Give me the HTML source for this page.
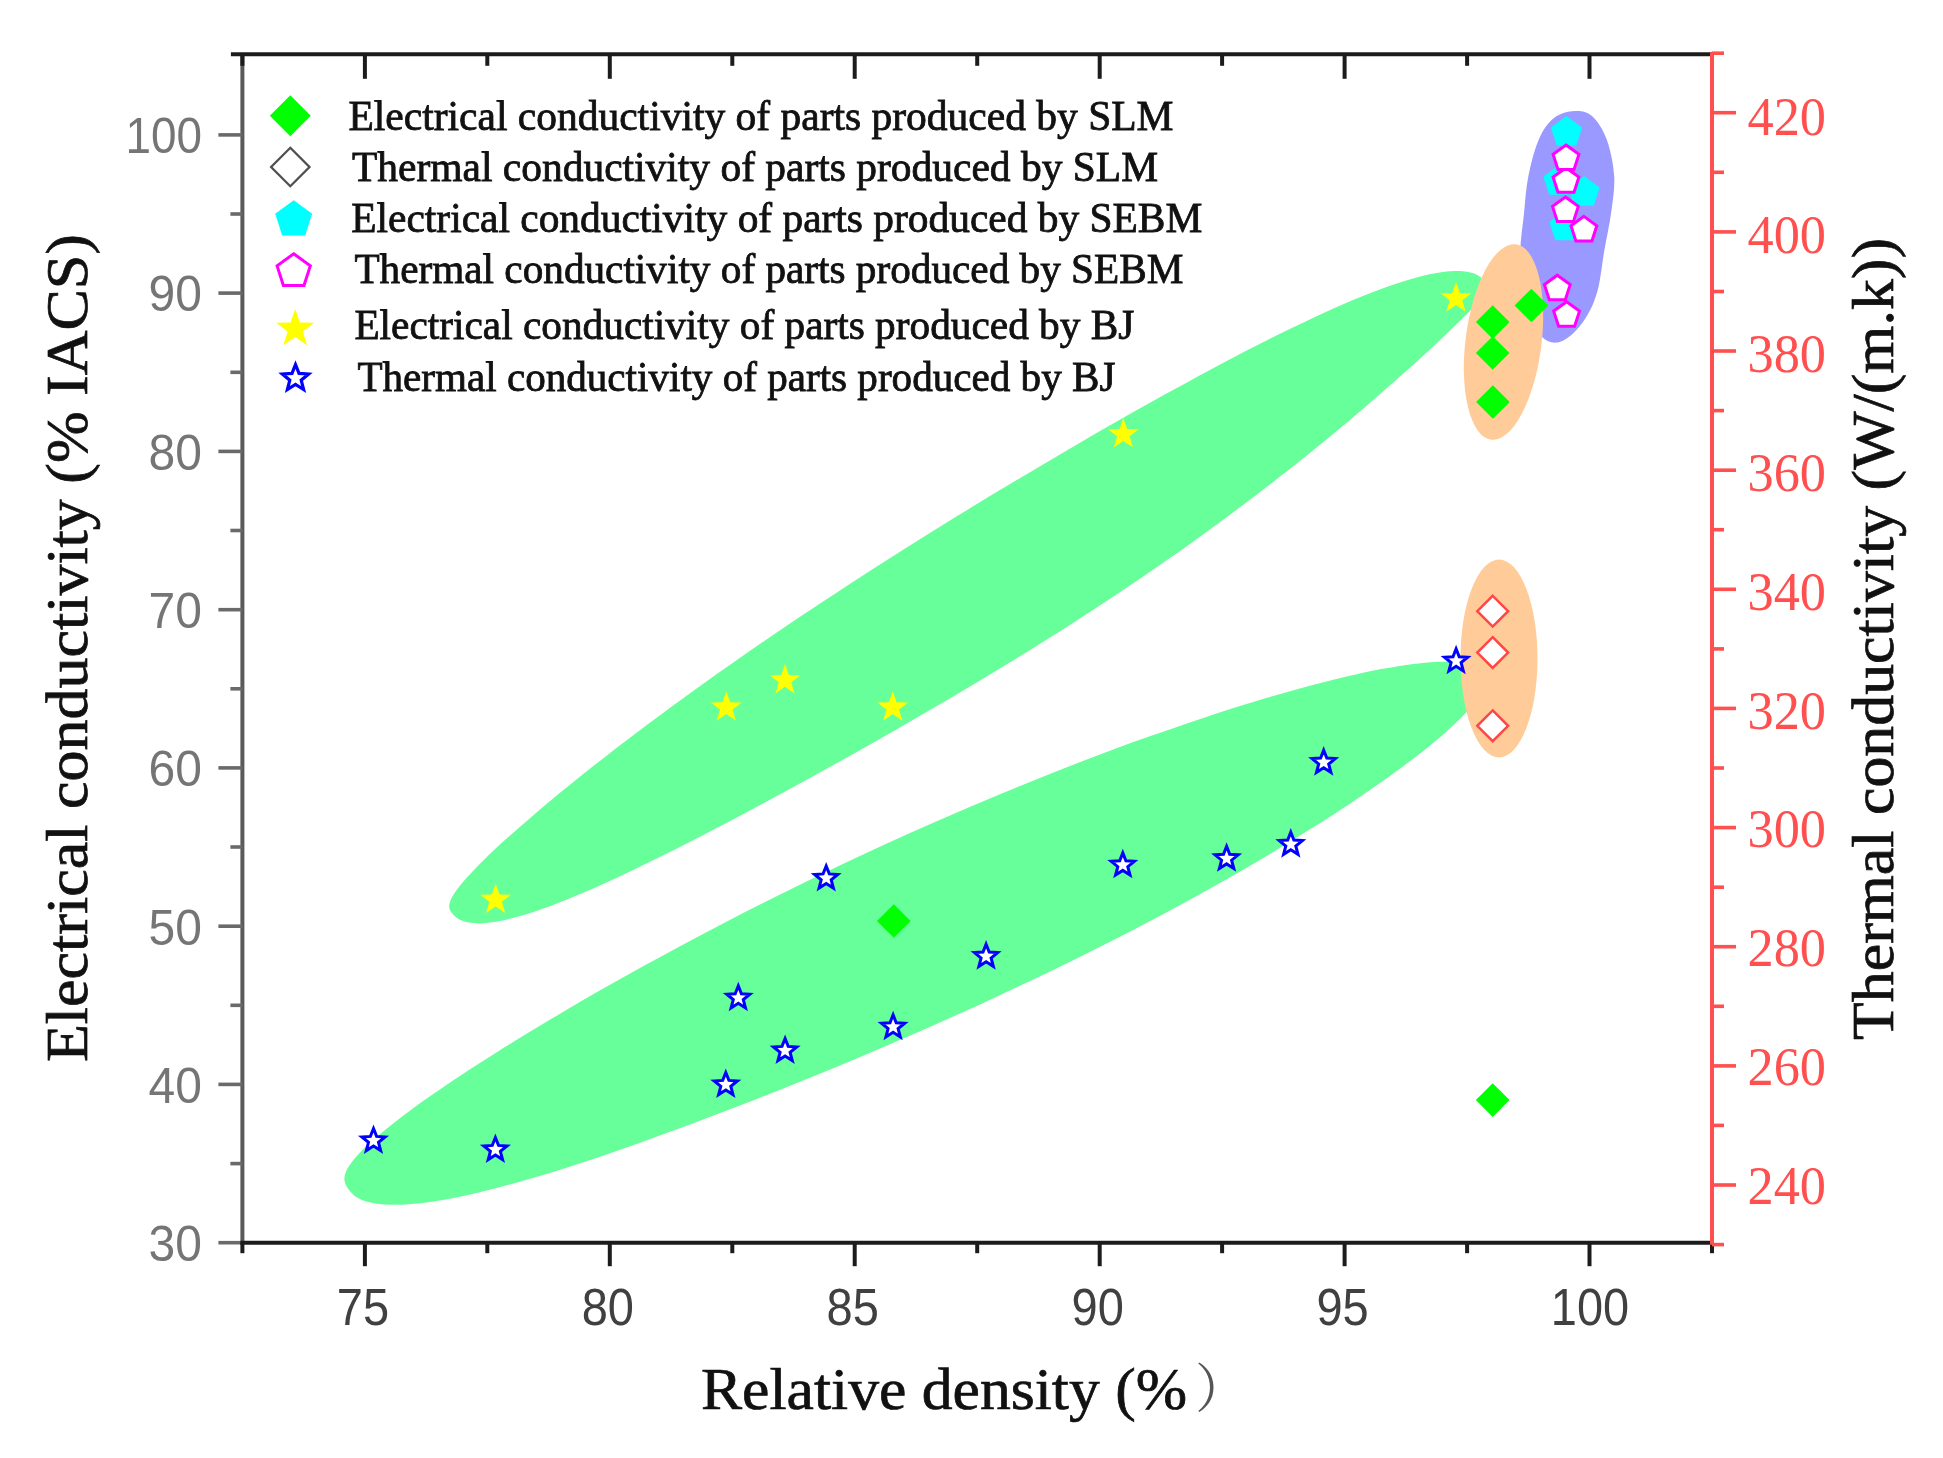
<!DOCTYPE html>
<html lang="en">
<head>
<meta charset="utf-8">
<title>Conductivity vs relative density</title>
<style>
html,body{margin:0;padding:0;background:#fff;}
body{width:1943px;height:1458px;overflow:hidden;}
svg{display:block;filter:blur(0.55px);}
text{white-space:pre;}
</style>
</head>
<body>
<svg width="1943" height="1458" viewBox="0 0 1943 1458">
<path d="M450.5,911C448.8,908.2 448.9,906.1 449.7,902.9C450.5,899.7 452.5,896.1 455.4,891.8C458.3,887.5 462.3,882.7 467.1,877.3C472,871.8 477.9,865.8 484.6,859.2C491.3,852.6 499,845.4 507.5,837.8C516,830.1 525.5,821.9 535.7,813.2C545.9,804.5 556.9,795.3 568.7,785.8C580.5,776.2 593.1,766.2 606.3,755.9C619.5,745.7 633.5,735 648.1,724.1C662.6,713.2 677.8,702 693.5,690.7C709.2,679.4 725.6,667.8 742.2,656.2C758.9,644.6 776.2,632.8 793.6,621.1C811.1,609.3 829,597.5 847.1,585.7C865.2,573.9 883.6,562.1 902,550.5C920.4,538.8 939.1,527.2 957.6,515.8C976.2,504.4 994.9,493 1013.4,482C1031.9,470.9 1050.3,460 1068.5,449.4C1086.7,438.7 1104.7,428.3 1122.4,418.3C1140,408.3 1157.4,398.6 1174.4,389.3C1191.3,380 1207.9,371 1223.9,362.5C1239.9,354.1 1255.5,346 1270.4,338.6C1285.3,331.1 1299.7,324.1 1313.4,317.7C1327.1,311.3 1340.2,305.5 1352.5,300.3C1364.9,295.2 1376.5,290.6 1387.3,286.8C1398.2,282.9 1408.3,279.7 1417.5,277.3C1426.7,274.8 1435.2,273.1 1442.7,272C1450.2,271 1456.9,270.7 1462.7,271.2C1468.5,271.7 1473.3,272.8 1477.4,274.9C1481.4,277 1485.5,281.5 1487,284C1488.5,286.5 1487.7,287.5 1486.6,290.1C1485.4,292.8 1483.1,295.8 1479.9,299.7C1476.8,303.5 1472.6,308 1467.6,313.2C1462.6,318.4 1456.6,324.2 1449.8,330.7C1443.1,337.2 1435.4,344.4 1426.9,352.2C1418.5,360 1409.2,368.4 1399.1,377.3C1389.1,386.2 1378.2,395.8 1366.6,405.7C1355.1,415.6 1342.7,426 1329.8,436.7C1316.8,447.4 1303,458.5 1288.7,469.8C1274.4,481 1259.4,492.7 1244,504.3C1228.5,516 1212.3,527.8 1195.8,539.7C1179.3,551.5 1162.1,563.5 1144.7,575.4C1127.3,587.2 1109.5,599.2 1091.4,610.9C1073.3,622.7 1054.9,634.4 1036.4,646C1017.9,657.5 999.1,669 980.4,680.2C961.8,691.4 942.9,702.5 924.3,713.3C905.7,724.2 887,734.8 868.7,745.2C850.4,755.6 832.2,765.7 814.4,775.5C796.6,785.3 779.1,794.9 762.1,804C745.1,813.1 728.4,822 712.3,830.3C696.3,838.7 680.6,846.7 665.7,854.1C650.8,861.6 636.4,868.6 622.7,875C609,881.4 596,887.3 583.7,892.6C571.4,897.8 559.8,902.5 549.1,906.4C538.3,910.4 528.3,913.7 519.1,916.3C510,918.9 501.6,920.8 494.2,921.9C486.7,923 480.1,923.5 474.4,923.1C468.7,922.7 463.9,921.7 459.9,919.7C456,917.7 452.2,913.8 450.5,911Z" fill="#66ff99"/>
<path d="M345.7,1184.5C344.1,1180.9 344.1,1178 345.1,1174.3C346.1,1170.6 348.4,1166.7 351.7,1162.3C355,1157.8 359.4,1153 364.9,1147.6C370.4,1142.3 376.9,1136.5 384.5,1130.4C392.1,1124.2 400.7,1117.5 410.2,1110.5C419.7,1103.5 430.3,1096 441.7,1088.3C453.1,1080.5 465.4,1072.3 478.6,1063.8C491.7,1055.4 505.7,1046.6 520.4,1037.6C535.1,1028.5 550.6,1019.2 566.7,1009.7C582.8,1000.3 599.7,990.6 617.1,980.8C634.4,971.1 652.4,961.1 670.8,951.2C689.2,941.2 708.2,931.2 727.4,921.3C746.6,911.3 766.3,901.3 786.2,891.5C806,881.7 826.3,871.9 846.5,862.3C866.8,852.7 887.3,843.3 907.7,834.1C928.2,824.9 948.7,815.9 969.1,807.2C989.4,798.5 1009.8,790 1029.9,781.9C1049.9,773.8 1069.9,766 1089.4,758.5C1108.9,751.1 1128.2,744 1146.9,737.3C1165.7,730.6 1184,724.3 1201.8,718.4C1219.5,712.6 1236.7,707.1 1253.2,702.1C1269.7,697 1285.6,692.4 1300.7,688.3C1315.7,684.2 1330.1,680.5 1343.5,677.3C1357,674.1 1369.6,671.4 1381.3,669.1C1393,666.9 1403.8,665.1 1413.6,663.9C1423.3,662.7 1432.2,661.9 1439.9,661.7C1447.7,661.6 1454.4,661.9 1460.1,662.8C1465.8,663.7 1470.4,665 1474.1,667.2C1477.7,669.4 1480.5,672.7 1482,676C1483.5,679.3 1483.8,683 1482.9,687C1482,690.9 1479.9,695 1476.7,699.7C1473.5,704.4 1469.2,709.5 1463.8,715.1C1458.5,720.7 1452,726.8 1444.6,733.2C1437.2,739.7 1428.7,746.7 1419.3,754C1409.9,761.3 1399.5,769.1 1388.2,777.2C1377,785.2 1364.7,793.7 1351.7,802.4C1338.7,811.1 1324.8,820.1 1310.1,829.3C1295.5,838.5 1280.1,848 1264,857.5C1247.9,867 1231,876.8 1213.7,886.5C1196.3,896.2 1178.3,906.1 1159.8,915.9C1141.4,925.7 1122.3,935.6 1103,945.3C1083.7,955.1 1063.9,964.8 1043.9,974.4C1024,984 1003.6,993.5 983.3,1002.9C962.9,1012.2 942.3,1021.5 921.8,1030.5C901.3,1039.5 880.6,1048.3 860.2,1056.9C839.8,1065.5 819.4,1073.9 799.3,1082C779.3,1090.1 759.4,1098 739.9,1105.6C720.4,1113.1 701.2,1120.4 682.6,1127.3C664,1134.2 645.7,1140.8 628.1,1146.9C610.5,1153.1 593.4,1158.9 577.1,1164.2C560.7,1169.5 544.9,1174.4 530,1178.7C515,1183.1 500.7,1187 487.4,1190.3C474,1193.7 461.3,1196.5 449.7,1198.7C438,1200.9 427.1,1202.5 417.3,1203.6C407.4,1204.6 398.4,1205 390.5,1204.8C382.5,1204.6 375.6,1203.8 369.6,1202.3C363.7,1200.8 358.8,1198.8 354.8,1195.9C350.8,1192.9 347.3,1188.1 345.7,1184.5Z" fill="#66ff99"/>
<path d="M1574.6,111C1580.9,110.7 1586.7,111.3 1592,116C1597.3,120.7 1603,129.3 1606.7,139.4C1610.4,149.5 1613.5,164.2 1614.2,176.5C1614.9,188.8 1612.7,201.2 1611,213.5C1609.3,225.8 1606.5,238 1604.3,250.6C1602.1,263.2 1600.7,278.4 1598,289C1595.3,299.6 1592.2,306.6 1588,314C1583.8,321.4 1578.2,328.8 1573,333.5C1567.8,338.2 1562.2,341.9 1557,342.5C1551.8,343.1 1546.5,341.6 1542,337C1537.5,332.4 1533.2,324.2 1530,315C1526.8,305.8 1524.6,292.7 1523,282C1521.4,271.3 1520.1,262 1520.3,250.6C1520.5,239.2 1522.7,225.8 1524,213.5C1525.3,201.2 1525.8,188.8 1528.3,176.5C1530.8,164.2 1534.5,149.2 1538.8,139.4C1543.1,129.7 1548,122.7 1554,118C1560,113.3 1568.3,111.3 1574.6,111Z" fill="#9999ff"/>
<ellipse cx="1503.5" cy="342" rx="38" ry="98.5" transform="rotate(7.2 1503.5 342)" fill="#ffcc99"/>
<ellipse cx="1499" cy="658.5" rx="38.5" ry="99" fill="#ffcc99"/>
<path d="M495.6,883.5L499.5,894.5L511.1,894.8L501.9,901.8L505.2,913L495.6,906.4L486,913L489.3,901.8L480.1,894.8L491.7,894.5Z" fill="#ffff00"/>
<path d="M726.3,691.2L730.2,702.2L741.8,702.5L732.6,709.5L735.9,720.7L726.3,714.1L716.7,720.7L720,709.5L710.8,702.5L722.4,702.2Z" fill="#ffff00"/>
<path d="M785,663.9L788.9,674.9L800.5,675.2L791.3,682.2L794.6,693.4L785,686.8L775.4,693.4L778.7,682.2L769.5,675.2L781.1,674.9Z" fill="#ffff00"/>
<path d="M892.7,691.2L896.6,702.2L908.2,702.5L899,709.5L902.3,720.7L892.7,714.1L883.1,720.7L886.4,709.5L877.2,702.5L888.8,702.2Z" fill="#ffff00"/>
<path d="M1123.3,418L1127.2,429L1138.8,429.3L1129.6,436.3L1132.9,447.5L1123.3,440.9L1113.7,447.5L1117,436.3L1107.8,429.3L1119.4,429Z" fill="#ffff00"/>
<path d="M1456,282L1459.9,293L1471.5,293.3L1462.3,300.3L1465.6,311.5L1456,304.9L1446.4,311.5L1449.7,300.3L1440.5,293.3L1452.1,293Z" fill="#ffff00"/>
<path d="M373.5,1128.5L376.6,1136.4L385.1,1136.9L378.5,1142.3L380.7,1150.6L373.5,1146L366.3,1150.6L368.5,1142.3L361.9,1136.9L370.4,1136.4Z" fill="#fff" stroke="#0000ff" stroke-width="3"/>
<path d="M495.4,1137.5L498.5,1145.4L507,1145.9L500.4,1151.3L502.6,1159.6L495.4,1155L488.2,1159.6L490.4,1151.3L483.8,1145.9L492.3,1145.4Z" fill="#fff" stroke="#0000ff" stroke-width="3"/>
<path d="M725.8,1072.5L728.9,1080.4L737.4,1080.9L730.8,1086.3L733,1094.6L725.8,1090L718.6,1094.6L720.8,1086.3L714.2,1080.9L722.7,1080.4Z" fill="#fff" stroke="#0000ff" stroke-width="3"/>
<path d="M738.3,985.8L741.4,993.7L749.9,994.2L743.3,999.6L745.5,1007.9L738.3,1003.3L731.1,1007.9L733.3,999.6L726.7,994.2L735.2,993.7Z" fill="#fff" stroke="#0000ff" stroke-width="3"/>
<path d="M785.1,1038.5L788.2,1046.4L796.7,1046.9L790.1,1052.3L792.3,1060.6L785.1,1056L777.9,1060.6L780.1,1052.3L773.5,1046.9L782,1046.4Z" fill="#fff" stroke="#0000ff" stroke-width="3"/>
<path d="M893.1,1014.8L896.2,1022.7L904.7,1023.2L898.1,1028.6L900.3,1036.9L893.1,1032.3L885.9,1036.9L888.1,1028.6L881.5,1023.2L890,1022.7Z" fill="#fff" stroke="#0000ff" stroke-width="3"/>
<path d="M826.2,866L829.3,873.9L837.8,874.4L831.2,879.8L833.4,888.1L826.2,883.5L819,888.1L821.2,879.8L814.6,874.4L823.1,873.9Z" fill="#fff" stroke="#0000ff" stroke-width="3"/>
<path d="M986.1,944.2L989.2,952.1L997.7,952.6L991.1,958L993.3,966.3L986.1,961.7L978.9,966.3L981.1,958L974.5,952.6L983,952.1Z" fill="#fff" stroke="#0000ff" stroke-width="3"/>
<path d="M1122.8,852.9L1125.9,860.8L1134.4,861.3L1127.8,866.7L1130,875L1122.8,870.4L1115.6,875L1117.8,866.7L1111.2,861.3L1119.7,860.8Z" fill="#fff" stroke="#0000ff" stroke-width="3"/>
<path d="M1226.6,846.4L1229.7,854.3L1238.2,854.8L1231.6,860.2L1233.8,868.5L1226.6,863.9L1219.4,868.5L1221.6,860.2L1215,854.8L1223.5,854.3Z" fill="#fff" stroke="#0000ff" stroke-width="3"/>
<path d="M1290.8,832.2L1293.9,840.1L1302.4,840.6L1295.8,846L1298,854.3L1290.8,849.7L1283.6,854.3L1285.8,846L1279.2,840.6L1287.7,840.1Z" fill="#fff" stroke="#0000ff" stroke-width="3"/>
<path d="M1323.7,750.2L1326.8,758.1L1335.3,758.6L1328.7,764L1330.9,772.3L1323.7,767.7L1316.5,772.3L1318.7,764L1312.1,758.6L1320.6,758.1Z" fill="#fff" stroke="#0000ff" stroke-width="3"/>
<path d="M1456.1,648.8L1459.2,656.7L1467.7,657.2L1461.1,662.6L1463.3,670.9L1456.1,666.3L1448.9,670.9L1451.1,662.6L1444.5,657.2L1453,656.7Z" fill="#fff" stroke="#0000ff" stroke-width="3"/>
<path d="M893.8,904.2L910.6,921L893.8,937.8L877,921Z" fill="#00ff00"/>
<path d="M1492.7,305.3L1509.5,322.1L1492.7,338.9L1475.9,322.1Z" fill="#00ff00"/>
<path d="M1492.7,336.2L1509.5,353L1492.7,369.8L1475.9,353Z" fill="#00ff00"/>
<path d="M1492.9,385.2L1509.7,402L1492.9,418.8L1476.1,402Z" fill="#00ff00"/>
<path d="M1531.4,288.7L1548.2,305.5L1531.4,322.3L1514.6,305.5Z" fill="#00ff00"/>
<path d="M1492.7,1083.3L1509.5,1100.1L1492.7,1116.9L1475.9,1100.1Z" fill="#00ff00"/>
<path d="M1492.7,595.8L1508.1,611.2L1492.7,626.6L1477.3,611.2Z" fill="#fff" stroke="#ff4545" stroke-width="2.5"/>
<path d="M1492.7,637.2L1508.1,652.6L1492.7,668L1477.3,652.6Z" fill="#fff" stroke="#ff4545" stroke-width="2.5"/>
<path d="M1492.7,710.4L1508.1,725.8L1492.7,741.2L1477.3,725.8Z" fill="#fff" stroke="#ff4545" stroke-width="2.5"/>
<path d="M1566.5,116L1582.2,127.4L1576.2,145.8L1556.8,145.8L1550.8,127.4Z" fill="#00ffff"/>
<path d="M1559,165L1574.7,176.4L1568.7,194.8L1549.3,194.8L1543.3,176.4Z" fill="#00ffff"/>
<path d="M1584,176L1599.7,187.4L1593.7,205.8L1574.3,205.8L1568.3,187.4Z" fill="#00ffff"/>
<path d="M1565,210.5L1580.7,221.9L1574.7,240.3L1555.3,240.3L1549.3,221.9Z" fill="#00ffff"/>
<path d="M1566,167.7L1578.9,177.1L1574,192.3L1558,192.3L1553.1,177.1Z" fill="#fff" stroke="#ff00ff" stroke-width="3"/>
<path d="M1566,145L1578.9,154.4L1574,169.6L1558,169.6L1553.1,154.4Z" fill="#fff" stroke="#ff00ff" stroke-width="3"/>
<path d="M1565.4,197L1578.3,206.4L1573.4,221.6L1557.4,221.6L1552.5,206.4Z" fill="#fff" stroke="#ff00ff" stroke-width="3"/>
<path d="M1583.9,216.4L1596.8,225.8L1591.9,241L1575.9,241L1571,225.8Z" fill="#fff" stroke="#ff00ff" stroke-width="3"/>
<path d="M1566.6,301.7L1579.5,311.1L1574.6,326.3L1558.6,326.3L1553.7,311.1Z" fill="#fff" stroke="#ff00ff" stroke-width="3"/>
<path d="M1557.3,275.2L1570.2,284.6L1565.3,299.8L1549.3,299.8L1544.4,284.6Z" fill="#fff" stroke="#ff00ff" stroke-width="3"/>
<line x1="242.4" y1="54.3" x2="242.4" y2="1242.7" stroke="#5a5a5a" stroke-width="4"/>
<line x1="218.4" y1="1242.7" x2="242.4" y2="1242.7" stroke="#6a6a6a" stroke-width="3.6"/>
<line x1="230.4" y1="1163.6" x2="242.4" y2="1163.6" stroke="#6a6a6a" stroke-width="3.6"/>
<line x1="218.4" y1="1084.4" x2="242.4" y2="1084.4" stroke="#6a6a6a" stroke-width="3.6"/>
<line x1="230.4" y1="1005.3" x2="242.4" y2="1005.3" stroke="#6a6a6a" stroke-width="3.6"/>
<line x1="218.4" y1="926.2" x2="242.4" y2="926.2" stroke="#6a6a6a" stroke-width="3.6"/>
<line x1="230.4" y1="847" x2="242.4" y2="847" stroke="#6a6a6a" stroke-width="3.6"/>
<line x1="218.4" y1="767.9" x2="242.4" y2="767.9" stroke="#6a6a6a" stroke-width="3.6"/>
<line x1="230.4" y1="688.8" x2="242.4" y2="688.8" stroke="#6a6a6a" stroke-width="3.6"/>
<line x1="218.4" y1="609.7" x2="242.4" y2="609.7" stroke="#6a6a6a" stroke-width="3.6"/>
<line x1="230.4" y1="530.5" x2="242.4" y2="530.5" stroke="#6a6a6a" stroke-width="3.6"/>
<line x1="218.4" y1="451.4" x2="242.4" y2="451.4" stroke="#6a6a6a" stroke-width="3.6"/>
<line x1="230.4" y1="372.3" x2="242.4" y2="372.3" stroke="#6a6a6a" stroke-width="3.6"/>
<line x1="218.4" y1="293.1" x2="242.4" y2="293.1" stroke="#6a6a6a" stroke-width="3.6"/>
<line x1="230.4" y1="214" x2="242.4" y2="214" stroke="#6a6a6a" stroke-width="3.6"/>
<line x1="218.4" y1="134.9" x2="242.4" y2="134.9" stroke="#6a6a6a" stroke-width="3.6"/>
<line x1="230.9" y1="54.3" x2="1712" y2="54.3" stroke="#1c1c1c" stroke-width="4"/>
<line x1="240.4" y1="1242.7" x2="1712" y2="1242.7" stroke="#1c1c1c" stroke-width="4"/>
<line x1="242.4" y1="54.3" x2="242.4" y2="65.8" stroke="#1c1c1c" stroke-width="4"/>
<line x1="242.4" y1="1242.7" x2="242.4" y2="1253.2" stroke="#1c1c1c" stroke-width="4"/>
<line x1="364.9" y1="54.3" x2="364.9" y2="78.8" stroke="#1c1c1c" stroke-width="4"/>
<line x1="364.9" y1="1242.7" x2="364.9" y2="1266.2" stroke="#1c1c1c" stroke-width="4"/>
<line x1="487.3" y1="54.3" x2="487.3" y2="65.8" stroke="#1c1c1c" stroke-width="4"/>
<line x1="487.3" y1="1242.7" x2="487.3" y2="1253.2" stroke="#1c1c1c" stroke-width="4"/>
<line x1="609.8" y1="54.3" x2="609.8" y2="78.8" stroke="#1c1c1c" stroke-width="4"/>
<line x1="609.8" y1="1242.7" x2="609.8" y2="1266.2" stroke="#1c1c1c" stroke-width="4"/>
<line x1="732.3" y1="54.3" x2="732.3" y2="65.8" stroke="#1c1c1c" stroke-width="4"/>
<line x1="732.3" y1="1242.7" x2="732.3" y2="1253.2" stroke="#1c1c1c" stroke-width="4"/>
<line x1="854.7" y1="54.3" x2="854.7" y2="78.8" stroke="#1c1c1c" stroke-width="4"/>
<line x1="854.7" y1="1242.7" x2="854.7" y2="1266.2" stroke="#1c1c1c" stroke-width="4"/>
<line x1="977.2" y1="54.3" x2="977.2" y2="65.8" stroke="#1c1c1c" stroke-width="4"/>
<line x1="977.2" y1="1242.7" x2="977.2" y2="1253.2" stroke="#1c1c1c" stroke-width="4"/>
<line x1="1099.7" y1="54.3" x2="1099.7" y2="78.8" stroke="#1c1c1c" stroke-width="4"/>
<line x1="1099.7" y1="1242.7" x2="1099.7" y2="1266.2" stroke="#1c1c1c" stroke-width="4"/>
<line x1="1222.1" y1="54.3" x2="1222.1" y2="65.8" stroke="#1c1c1c" stroke-width="4"/>
<line x1="1222.1" y1="1242.7" x2="1222.1" y2="1253.2" stroke="#1c1c1c" stroke-width="4"/>
<line x1="1344.6" y1="54.3" x2="1344.6" y2="78.8" stroke="#1c1c1c" stroke-width="4"/>
<line x1="1344.6" y1="1242.7" x2="1344.6" y2="1266.2" stroke="#1c1c1c" stroke-width="4"/>
<line x1="1467.1" y1="54.3" x2="1467.1" y2="65.8" stroke="#1c1c1c" stroke-width="4"/>
<line x1="1467.1" y1="1242.7" x2="1467.1" y2="1253.2" stroke="#1c1c1c" stroke-width="4"/>
<line x1="1589.5" y1="54.3" x2="1589.5" y2="78.8" stroke="#1c1c1c" stroke-width="4"/>
<line x1="1589.5" y1="1242.7" x2="1589.5" y2="1266.2" stroke="#1c1c1c" stroke-width="4"/>
<line x1="1712" y1="54.3" x2="1712" y2="65.8" stroke="#1c1c1c" stroke-width="4"/>
<line x1="1712" y1="1242.7" x2="1712" y2="1253.2" stroke="#1c1c1c" stroke-width="4"/>
<line x1="1712" y1="52.3" x2="1712" y2="1244.7" stroke="#ff4f4f" stroke-width="4"/>
<line x1="1712" y1="1244.6" x2="1724" y2="1244.6" stroke="#ff4f4f" stroke-width="3.6"/>
<line x1="1712" y1="1185" x2="1736" y2="1185" stroke="#ff4f4f" stroke-width="3.6"/>
<line x1="1712" y1="1125.4" x2="1724" y2="1125.4" stroke="#ff4f4f" stroke-width="3.6"/>
<line x1="1712" y1="1065.9" x2="1736" y2="1065.9" stroke="#ff4f4f" stroke-width="3.6"/>
<line x1="1712" y1="1006.3" x2="1724" y2="1006.3" stroke="#ff4f4f" stroke-width="3.6"/>
<line x1="1712" y1="946.7" x2="1736" y2="946.7" stroke="#ff4f4f" stroke-width="3.6"/>
<line x1="1712" y1="887.2" x2="1724" y2="887.2" stroke="#ff4f4f" stroke-width="3.6"/>
<line x1="1712" y1="827.6" x2="1736" y2="827.6" stroke="#ff4f4f" stroke-width="3.6"/>
<line x1="1712" y1="768" x2="1724" y2="768" stroke="#ff4f4f" stroke-width="3.6"/>
<line x1="1712" y1="708.4" x2="1736" y2="708.4" stroke="#ff4f4f" stroke-width="3.6"/>
<line x1="1712" y1="648.9" x2="1724" y2="648.9" stroke="#ff4f4f" stroke-width="3.6"/>
<line x1="1712" y1="589.3" x2="1736" y2="589.3" stroke="#ff4f4f" stroke-width="3.6"/>
<line x1="1712" y1="529.7" x2="1724" y2="529.7" stroke="#ff4f4f" stroke-width="3.6"/>
<line x1="1712" y1="470.2" x2="1736" y2="470.2" stroke="#ff4f4f" stroke-width="3.6"/>
<line x1="1712" y1="410.6" x2="1724" y2="410.6" stroke="#ff4f4f" stroke-width="3.6"/>
<line x1="1712" y1="351" x2="1736" y2="351" stroke="#ff4f4f" stroke-width="3.6"/>
<line x1="1712" y1="291.5" x2="1724" y2="291.5" stroke="#ff4f4f" stroke-width="3.6"/>
<line x1="1712" y1="231.9" x2="1736" y2="231.9" stroke="#ff4f4f" stroke-width="3.6"/>
<line x1="1712" y1="172.3" x2="1724" y2="172.3" stroke="#ff4f4f" stroke-width="3.6"/>
<line x1="1712" y1="112.7" x2="1736" y2="112.7" stroke="#ff4f4f" stroke-width="3.6"/>
<line x1="1712" y1="53.2" x2="1724" y2="53.2" stroke="#ff4f4f" stroke-width="3.6"/>
<text x="362.9" y="1325" text-anchor="middle" font-family="'Liberation Sans',sans-serif" font-size="51" textLength="52.3" lengthAdjust="spacingAndGlyphs" fill="#404040">75</text>
<text x="607.8" y="1325" text-anchor="middle" font-family="'Liberation Sans',sans-serif" font-size="51" textLength="52.3" lengthAdjust="spacingAndGlyphs" fill="#404040">80</text>
<text x="852.7" y="1325" text-anchor="middle" font-family="'Liberation Sans',sans-serif" font-size="51" textLength="52.3" lengthAdjust="spacingAndGlyphs" fill="#404040">85</text>
<text x="1097.7" y="1325" text-anchor="middle" font-family="'Liberation Sans',sans-serif" font-size="51" textLength="52.3" lengthAdjust="spacingAndGlyphs" fill="#404040">90</text>
<text x="1342.6" y="1325" text-anchor="middle" font-family="'Liberation Sans',sans-serif" font-size="51" textLength="52.3" lengthAdjust="spacingAndGlyphs" fill="#404040">95</text>
<text x="1590" y="1325" text-anchor="middle" font-family="'Liberation Sans',sans-serif" font-size="51" textLength="78.3" lengthAdjust="spacingAndGlyphs" fill="#404040">100</text>
<text x="202" y="1261" text-anchor="end" font-family="'Liberation Sans',sans-serif" font-size="50" textLength="53.4" lengthAdjust="spacingAndGlyphs" fill="#757575">30</text>
<text x="202" y="1102.7" text-anchor="end" font-family="'Liberation Sans',sans-serif" font-size="50" textLength="53.4" lengthAdjust="spacingAndGlyphs" fill="#757575">40</text>
<text x="202" y="944.5" text-anchor="end" font-family="'Liberation Sans',sans-serif" font-size="50" textLength="53.4" lengthAdjust="spacingAndGlyphs" fill="#757575">50</text>
<text x="202" y="786.2" text-anchor="end" font-family="'Liberation Sans',sans-serif" font-size="50" textLength="53.4" lengthAdjust="spacingAndGlyphs" fill="#757575">60</text>
<text x="202" y="628" text-anchor="end" font-family="'Liberation Sans',sans-serif" font-size="50" textLength="53.4" lengthAdjust="spacingAndGlyphs" fill="#757575">70</text>
<text x="202" y="469.7" text-anchor="end" font-family="'Liberation Sans',sans-serif" font-size="50" textLength="53.4" lengthAdjust="spacingAndGlyphs" fill="#757575">80</text>
<text x="202" y="311.4" text-anchor="end" font-family="'Liberation Sans',sans-serif" font-size="50" textLength="53.4" lengthAdjust="spacingAndGlyphs" fill="#757575">90</text>
<text x="202" y="153.2" text-anchor="end" font-family="'Liberation Sans',sans-serif" font-size="50" textLength="76.5" lengthAdjust="spacingAndGlyphs" fill="#757575">100</text>
<text x="1747.5" y="1203.6" font-family="'Liberation Serif',serif" font-size="54" textLength="78.5" lengthAdjust="spacingAndGlyphs" fill="#ff4f4f">240</text>
<text x="1747.5" y="1084.8" font-family="'Liberation Serif',serif" font-size="54" textLength="78.5" lengthAdjust="spacingAndGlyphs" fill="#ff4f4f">260</text>
<text x="1747.5" y="966" font-family="'Liberation Serif',serif" font-size="54" textLength="78.5" lengthAdjust="spacingAndGlyphs" fill="#ff4f4f">280</text>
<text x="1747.5" y="847.3" font-family="'Liberation Serif',serif" font-size="54" textLength="78.5" lengthAdjust="spacingAndGlyphs" fill="#ff4f4f">300</text>
<text x="1747.5" y="728.5" font-family="'Liberation Serif',serif" font-size="54" textLength="78.5" lengthAdjust="spacingAndGlyphs" fill="#ff4f4f">320</text>
<text x="1747.5" y="609.7" font-family="'Liberation Serif',serif" font-size="54" textLength="78.5" lengthAdjust="spacingAndGlyphs" fill="#ff4f4f">340</text>
<text x="1747.5" y="490.9" font-family="'Liberation Serif',serif" font-size="54" textLength="78.5" lengthAdjust="spacingAndGlyphs" fill="#ff4f4f">360</text>
<text x="1747.5" y="372.1" font-family="'Liberation Serif',serif" font-size="54" textLength="78.5" lengthAdjust="spacingAndGlyphs" fill="#ff4f4f">380</text>
<text x="1747.5" y="253.4" font-family="'Liberation Serif',serif" font-size="54" textLength="78.5" lengthAdjust="spacingAndGlyphs" fill="#ff4f4f">400</text>
<text x="1747.5" y="134.6" font-family="'Liberation Serif',serif" font-size="54" textLength="78.5" lengthAdjust="spacingAndGlyphs" fill="#ff4f4f">420</text>
<text x="701" y="1409" font-family="'Liberation Serif','Noto Serif CJK SC',serif" font-size="59.5" fill="#111"><tspan stroke="#111" stroke-width="0.7" textLength="486" lengthAdjust="spacingAndGlyphs">Relative density (%</tspan><tspan dx="8" dy="-1" font-size="53" fill="#555">）</tspan></text>
<text transform="translate(87.3 1062) rotate(-90)" font-family="'Liberation Serif','Noto Serif CJK SC',serif" font-size="59.5" fill="#111" stroke="#111" stroke-width="0.7" textLength="828" lengthAdjust="spacingAndGlyphs">Electrical conductivity (% IACS)</text>
<text transform="translate(1893.4 1040) rotate(-90)" font-family="'Liberation Serif','Noto Serif CJK SC',serif" font-size="59.5" fill="#111" stroke="#111" stroke-width="0.7" textLength="802" lengthAdjust="spacingAndGlyphs">Thermal conductivity (W/(m.k))</text>
<text x="348.5" y="130.3" font-family="'Liberation Serif','Noto Serif CJK SC',serif" font-size="41.2" fill="#111" stroke="#111" stroke-width="0.8" textLength="825" lengthAdjust="spacingAndGlyphs">Electrical conductivity of parts produced by SLM</text>
<text x="352" y="181" font-family="'Liberation Serif','Noto Serif CJK SC',serif" font-size="41.2" fill="#111" stroke="#111" stroke-width="0.8" textLength="806" lengthAdjust="spacingAndGlyphs">Thermal conductivity of parts produced by SLM</text>
<text x="351.3" y="232.1" font-family="'Liberation Serif','Noto Serif CJK SC',serif" font-size="41.2" fill="#111" stroke="#111" stroke-width="0.8" textLength="851" lengthAdjust="spacingAndGlyphs">Electrical conductivity of parts produced by SEBM</text>
<text x="354.4" y="283.4" font-family="'Liberation Serif','Noto Serif CJK SC',serif" font-size="41.2" fill="#111" stroke="#111" stroke-width="0.8" textLength="829" lengthAdjust="spacingAndGlyphs">Thermal conductivity of parts produced by SEBM</text>
<text x="354.4" y="338.9" font-family="'Liberation Serif','Noto Serif CJK SC',serif" font-size="41.2" fill="#111" stroke="#111" stroke-width="0.8" textLength="780" lengthAdjust="spacingAndGlyphs">Electrical conductivity of parts produced by BJ</text>
<text x="357.4" y="391.4" font-family="'Liberation Serif','Noto Serif CJK SC',serif" font-size="41.2" fill="#111" stroke="#111" stroke-width="0.8" textLength="758" lengthAdjust="spacingAndGlyphs">Thermal conductivity of parts produced by BJ</text>
<path d="M290.3,95.2L310.8,115.7L290.3,136.2L269.8,115.7Z" fill="#00ff00"/>
<path d="M290.3,147.8L309.5,167L290.3,186.2L271.1,167Z" fill="#fff" stroke="#505050" stroke-width="2.3"/>
<path d="M293.7,200.3L312.2,213.8L305.2,235.6L282.2,235.6L275.2,213.8Z" fill="#00ffff"/>
<path d="M293.7,253.8L310.3,265.9L304,285.5L283.4,285.5L277.1,265.9Z" fill="#fff" stroke="#ff00ff" stroke-width="3"/>
<path d="M295.2,309L299.9,322.5L314.2,322.8L302.8,331.5L307,345.2L295.2,337L283.4,345.2L287.6,331.5L276.2,322.8L290.5,322.5Z" fill="#ffff00"/>
<path d="M295.5,364.5L299,373.4L308.6,374L301.2,380.2L303.6,389.5L295.5,384.3L287.4,389.5L289.8,380.2L282.4,374L292,373.4Z" fill="#fff" stroke="#0000ff" stroke-width="3.2"/>
</svg>
</body>
</html>
